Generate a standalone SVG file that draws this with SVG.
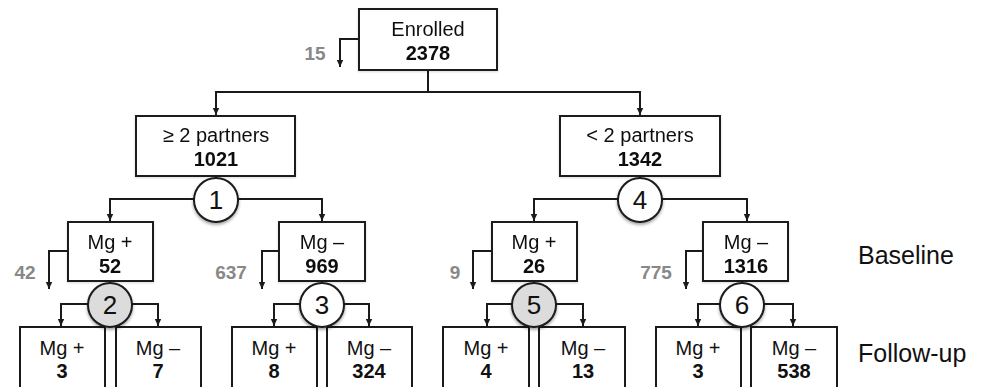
<svg xmlns="http://www.w3.org/2000/svg" width="985" height="387" viewBox="0 0 985 387">
<defs>
<marker id="ah" markerWidth="8" markerHeight="8" refX="7" refY="4" orient="auto" markerUnits="userSpaceOnUse">
<path d="M0,0.8 L7,4 L0,7.2 Z" fill="#1a1a1a"/>
</marker>
<filter id="sh" x="-30%" y="-30%" width="160%" height="170%">
<feDropShadow dx="0" dy="2" stdDeviation="1.8" flood-color="#000" flood-opacity="0.35"/>
</filter>
<filter id="bsh" x="-10%" y="-10%" width="120%" height="130%">
<feDropShadow dx="0" dy="1" stdDeviation="1" flood-color="#000" flood-opacity="0.15"/>
</filter>
</defs>
<style>
.box{fill:#fff;stroke:#1a1a1a;stroke-width:2}
.c{fill:#fff;stroke:#1a1a1a;stroke-width:2}
.cg{fill:#dcdcdc;stroke:#1a1a1a;stroke-width:2}
.ln{fill:none;stroke:#1a1a1a;stroke-width:2}
.t{font-family:"Liberation Sans",Arial,sans-serif;font-size:20px;fill:#111;text-anchor:middle}
.b{font-weight:bold}
.g{font-family:"Liberation Sans",Arial,sans-serif;font-size:19px;font-weight:bold;fill:#888;text-anchor:middle}
.n{font-family:"Liberation Sans",Arial,sans-serif;font-size:26px;fill:#111;text-anchor:middle}
.lab{font-family:"Liberation Sans",Arial,sans-serif;font-size:25px;fill:#111}
</style>
<rect width="985" height="387" fill="#fff"/>

<g id="connectors">
<path class="ln" d="M359,39 H340 V67" marker-end="url(#ah)"/>
<path class="ln" d="M428,70 V92 H216 V115" marker-end="url(#ah)"/>
<path class="ln" d="M428,92 H640 V115" marker-end="url(#ah)"/>
<path class="ln" d="M216,176 V180"/>
<path class="ln" d="M640,176 V180"/>
<path class="ln" d="M195,199 H110 V221" marker-end="url(#ah)"/>
<path class="ln" d="M237,199 H322 V221" marker-end="url(#ah)"/>
<path class="ln" d="M619,199 H534 V221" marker-end="url(#ah)"/>
<path class="ln" d="M661,199 H747 V221" marker-end="url(#ah)"/>
<path class="ln" d="M68,251 H49 V289" marker-end="url(#ah)"/>
<path class="ln" d="M279,251 H262 V289" marker-end="url(#ah)"/>
<path class="ln" d="M492,251 H473 V289" marker-end="url(#ah)"/>
<path class="ln" d="M703,251 H686 V289" marker-end="url(#ah)"/>
<path class="ln" d="M89,304 H61 V326" marker-end="url(#ah)"/>
<path class="ln" d="M131,304 H158 V326" marker-end="url(#ah)"/>
<path class="ln" d="M301,304 H274 V326" marker-end="url(#ah)"/>
<path class="ln" d="M343,304 H369 V326" marker-end="url(#ah)"/>
<path class="ln" d="M513,304 H487 V326" marker-end="url(#ah)"/>
<path class="ln" d="M555,304 H583 V326" marker-end="url(#ah)"/>
<path class="ln" d="M721,304 H698 V326" marker-end="url(#ah)"/>
<path class="ln" d="M763,304 H793 V326" marker-end="url(#ah)"/>
</g>

<g id="loss-labels">
<text class="g" x="315" y="60">15</text>
<text class="g" x="25" y="279">42</text>
<text class="g" x="231" y="279">637</text>
<text class="g" x="455" y="279">9</text>
<text class="g" x="656" y="279">775</text>
</g>

<g id="enrolled" filter="url(#bsh)">
<rect class="box" x="359" y="9" width="138" height="61"/>
<text class="t" x="428" y="36">Enrolled</text>
<text class="t b" x="428" y="60">2378</text>
</g>
<g id="ge2" filter="url(#bsh)">
<rect class="box" x="136" y="116" width="159" height="60"/>
<text class="t" x="216" y="142">≥ 2 partners</text>
<text class="t b" x="216" y="166">1021</text>
</g>
<g id="lt2" filter="url(#bsh)">
<rect class="box" x="560" y="116" width="160" height="60"/>
<text class="t" x="640" y="142">&lt; 2 partners</text>
<text class="t b" x="640" y="166">1342</text>
</g>

<g id="b1" filter="url(#bsh)">
<rect class="box" x="68" y="222" width="85" height="59"/>
<text class="t" x="110" y="249">Mg +</text>
<text class="t b" x="110" y="273">52</text>
</g>
<g id="b2" filter="url(#bsh)">
<rect class="box" x="279" y="222" width="86" height="59"/>
<text class="t" x="322" y="249">Mg –</text>
<text class="t b" x="322" y="273">969</text>
</g>
<g id="b3" filter="url(#bsh)">
<rect class="box" x="492" y="222" width="85" height="59"/>
<text class="t" x="534" y="249">Mg +</text>
<text class="t b" x="534" y="273">26</text>
</g>
<g id="b4" filter="url(#bsh)">
<rect class="box" x="703" y="222" width="85" height="59"/>
<text class="t" x="746" y="249">Mg –</text>
<text class="t b" x="746" y="273">1316</text>
</g>

<g id="f1"><rect class="box" x="20" y="327" width="85" height="70"/>
<text class="t" x="62" y="355">Mg +</text><text class="t b" x="62" y="378">3</text></g>
<g id="f2"><rect class="box" x="116" y="327" width="85" height="70"/>
<text class="t" x="158" y="355">Mg –</text><text class="t b" x="158" y="378">7</text></g>
<g id="f3"><rect class="box" x="232" y="327" width="85" height="70"/>
<text class="t" x="274" y="355">Mg +</text><text class="t b" x="274" y="378">8</text></g>
<g id="f4"><rect class="box" x="327" y="327" width="85" height="70"/>
<text class="t" x="369" y="355">Mg –</text><text class="t b" x="369" y="378">324</text></g>
<g id="f5"><rect class="box" x="443" y="327" width="86" height="70"/>
<text class="t" x="486" y="355">Mg +</text><text class="t b" x="486" y="378">4</text></g>
<g id="f6"><rect class="box" x="539" y="327" width="86" height="70"/>
<text class="t" x="583" y="355">Mg –</text><text class="t b" x="583" y="378">13</text></g>
<g id="f7"><rect class="box" x="656" y="327" width="85" height="70"/>
<text class="t" x="698" y="355">Mg +</text><text class="t b" x="698" y="378">3</text></g>
<g id="f8"><rect class="box" x="751" y="327" width="86" height="70"/>
<text class="t" x="794" y="355">Mg –</text><text class="t b" x="794" y="378">538</text></g>

<g id="c1"><circle class="c" cx="216" cy="200" r="22" filter="url(#sh)"/><text class="n" x="216" y="209">1</text></g>
<g id="c4"><circle class="c" cx="640" cy="200" r="22" filter="url(#sh)"/><text class="n" x="640" y="209">4</text></g>
<g id="c2"><circle class="cg" cx="110" cy="305" r="22" filter="url(#sh)"/><text class="n" x="110" y="314">2</text></g>
<g id="c3"><circle class="c" cx="322" cy="305" r="22" filter="url(#sh)"/><text class="n" x="322" y="314">3</text></g>
<g id="c5"><circle class="cg" cx="534" cy="305" r="22" filter="url(#sh)"/><text class="n" x="534" y="314">5</text></g>
<g id="c6"><circle class="c" cx="742" cy="305" r="22" filter="url(#sh)"/><text class="n" x="742" y="314">6</text></g>

<g id="stage-labels">
<text class="lab" x="858" y="264">Baseline</text>
<text class="lab" x="858" y="362">Follow-up</text>
</g>
</svg>
